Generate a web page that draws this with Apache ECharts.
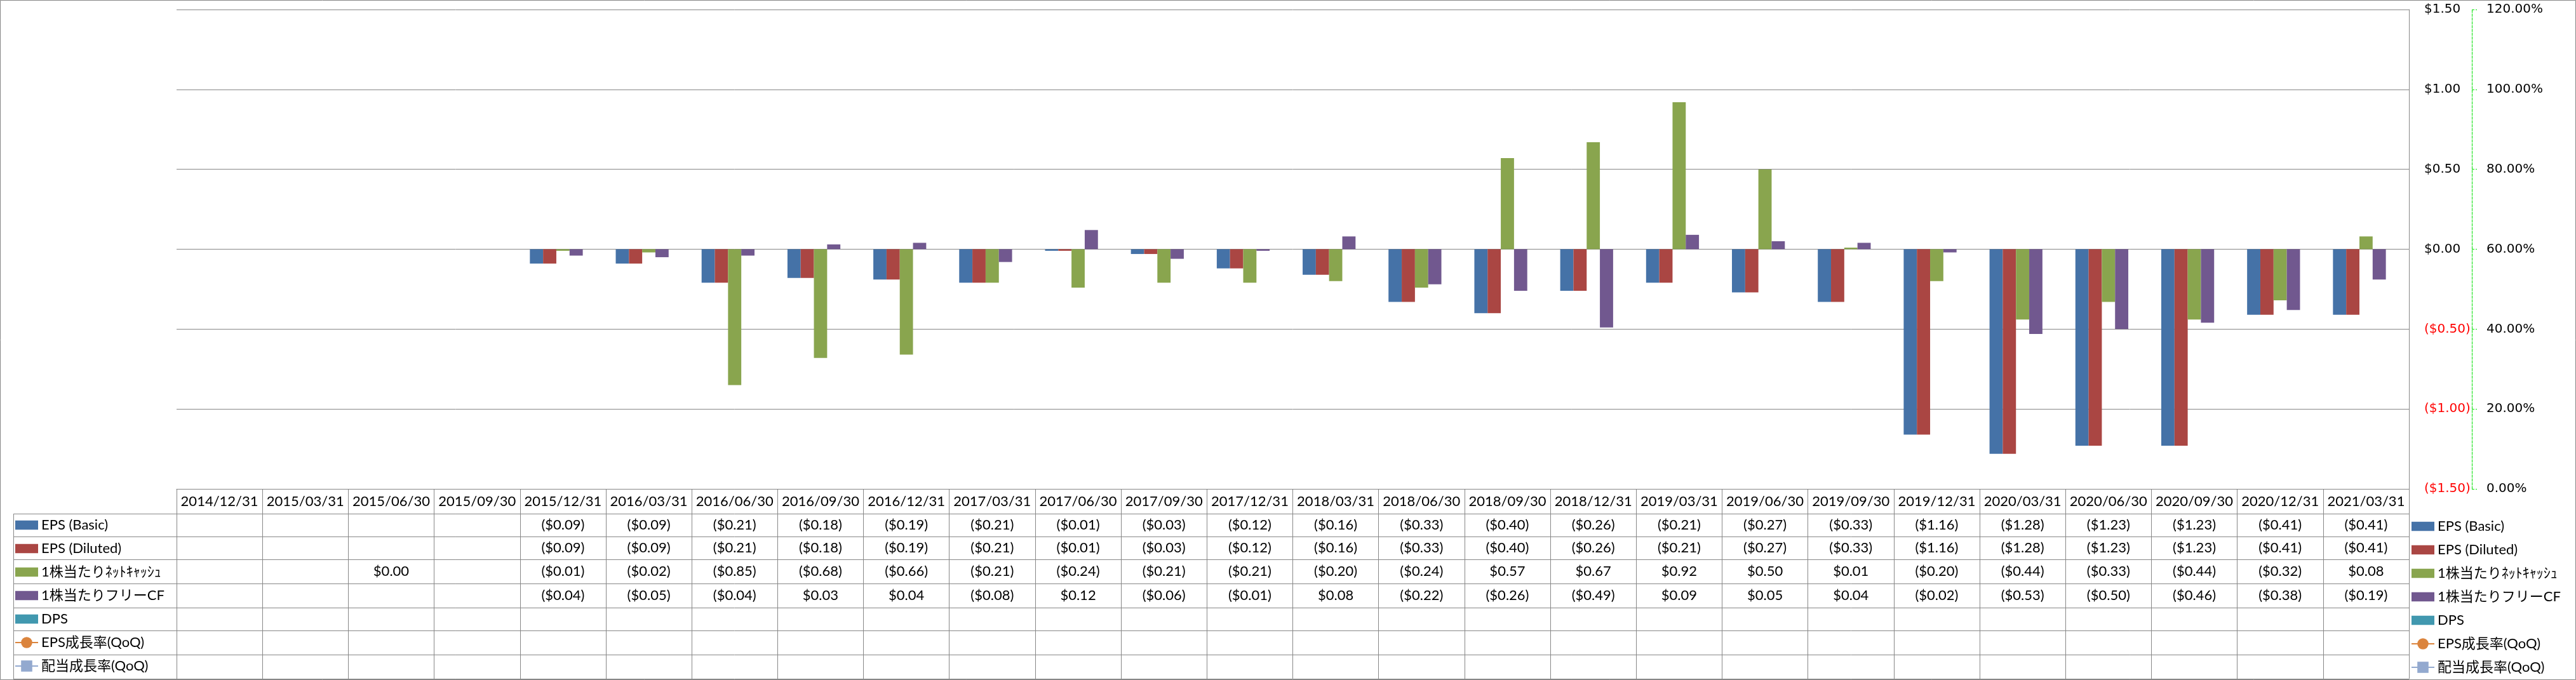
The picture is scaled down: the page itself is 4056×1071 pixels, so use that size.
<!DOCTYPE html>
<html><head><meta charset="utf-8">
<script src="https://cdn.jsdelivr.net/npm/echarts@6/dist/echarts.min.js"></script>
<style>html,body{margin:0;padding:0;background:#fff}#c{width:4056px;height:1071px}</style>
</head><body><div id="c"></div>
<script>
// ---------------- DATA ----------------
const categories = ['2014/12/31','2015/03/31','2015/06/30','2015/09/30','2015/12/31','2016/03/31','2016/06/30','2016/09/30','2016/12/31','2017/03/31','2017/06/30','2017/09/30','2017/12/31','2018/03/31','2018/06/30','2018/09/30','2018/12/31','2019/03/31','2019/06/30','2019/09/30','2019/12/31','2020/03/31','2020/06/30','2020/09/30','2020/12/31','2021/03/31'];
const epsBasic   = [null,null,null,null,-0.09,-0.09,-0.21,-0.18,-0.19,-0.21,-0.01,-0.03,-0.12,-0.16,-0.33,-0.40,-0.26,-0.21,-0.27,-0.33,-1.16,-1.28,-1.23,-1.23,-0.41,-0.41];
const epsDiluted = [null,null,null,null,-0.09,-0.09,-0.21,-0.18,-0.19,-0.21,-0.01,-0.03,-0.12,-0.16,-0.33,-0.40,-0.26,-0.21,-0.27,-0.33,-1.16,-1.28,-1.23,-1.23,-0.41,-0.41];
const netCashPerShare = [null,null,0.00,null,-0.01,-0.02,-0.85,-0.68,-0.66,-0.21,-0.24,-0.21,-0.21,-0.20,-0.24,0.57,0.67,0.92,0.50,0.01,-0.20,-0.44,-0.33,-0.44,-0.32,0.08];
const fcfPerShare = [null,null,null,null,-0.04,-0.05,-0.04,0.03,0.04,-0.08,0.12,-0.06,-0.01,0.08,-0.22,-0.26,-0.49,0.09,0.05,0.04,-0.02,-0.53,-0.50,-0.46,-0.38,-0.19];
const dps        = [null,null,null,null,null,null,null,null,null,null,null,null,null,null,null,null,null,null,null,null,null,null,null,null,null,null];
const epsGrowth  = [null,null,null,null,null,null,null,null,null,null,null,null,null,null,null,null,null,null,null,null,null,null,null,null,null,null];
const divGrowth  = [null,null,null,null,null,null,null,null,null,null,null,null,null,null,null,null,null,null,null,null,null,null,null,null,null,null];
const seriesNames = ['EPS (Basic)','EPS (Diluted)','1株当たりﾈｯﾄｷｬｯｼｭ','1株当たりフリーCF','DPS','EPS成長率(QoQ)','配当成長率(QoQ)'];
const dollarAxis = {min:-1.5, max:1.5, interval:0.5};
const percentAxis = {min:0, max:1.2, interval:0.2};

// ---------------- STYLE / LAYOUT ----------------
const colors = ['#4572A7','#AA4643','#89A54E','#71588F','#4198AF','#DB843D','#93A9CF'];
const GRAY = '#878787';
const TFONT = "Lato, 'Noto Sans CJK JP', sans-serif";
const AFONT = "'DejaVu Sans', sans-serif";
const PLOT = {l:278, r:3793, t:15, b:770};
const rowTops = [809,845,881,919,957,993,1031];
const tableBottom = 1069;

const fmtDollar = v => (v === null || v === undefined) ? '' : (v < 0 ? '($' + Math.abs(v).toFixed(2) + ')' : '$' + v.toFixed(2));
const fmtPct = v => (v === null || v === undefined) ? '' : (v * 100).toFixed(2) + '%';
const rows = [
  {vals: epsBasic, fmt: fmtDollar},
  {vals: epsDiluted, fmt: fmtDollar},
  {vals: netCashPerShare, fmt: fmtDollar},
  {vals: fcfPerShare, fmt: fmtDollar},
  {vals: dps, fmt: fmtDollar},
  {vals: epsGrowth, fmt: fmtPct},
  {vals: divGrowth, fmt: fmtPct}
];

const xAxes = [{
  type:'category', data: categories, gridIndex:0, position:'bottom',
  axisLine:{show:true, onZero:false, lineStyle:{color:GRAY, width:1}},
  axisTick:{show:true, interval:0, length: rowTops[0]-PLOT.b, lineStyle:{color:GRAY, width:1}},
  axisLabel:{interval:0, margin:(rowTops[0]-PLOT.b)/2, verticalAlign:'middle', fontSize:22, fontFamily:TFONT, color:'#000'},
  splitLine:{show:false}
}];
rows.forEach((r, i) => {
  const top = rowTops[i];
  const h = (i + 1 < rowTops.length ? rowTops[i+1] : tableBottom) - top;
  xAxes.push({
    type:'category', data: categories, gridIndex:0, position:'bottom', offset: top - PLOT.b,
    axisLine:{show:true, onZero:false, lineStyle:{color:GRAY, width:1}},
    axisTick:{show:true, interval:0, length:h, lineStyle:{color:GRAY, width:1}},
    axisLabel:{interval:0, margin:h/2, verticalAlign:'middle', fontSize:22, fontFamily:TFONT, color:'#000',
      formatter:(val, idx) => r.fmt(r.vals[idx])},
    splitLine:{show:false}
  });
});
xAxes.push({
  type:'category', data: categories, gridIndex:0, position:'bottom', offset: tableBottom - PLOT.b,
  axisLine:{show:true, onZero:false, lineStyle:{color:GRAY, width:1}},
  axisTick:{show:false}, axisLabel:{show:false}, splitLine:{show:false}
});

const barIcon = 'path://M0,0H32V13H0Z';
function legendData() {
  return seriesNames.map((n, i) => i < 5 ? {name:n, icon:barIcon} : {name:n});
}
const legendCommon = {
  orient:'vertical', itemWidth:36, itemHeight:22, itemGap:15, selectedMode:false, padding:0, height:260,
  textStyle:{fontSize:22, fontFamily:TFONT, color:'#000', lineHeight:22}
};

const barSeries = [epsBasic, epsDiluted, netCashPerShare, fcfPerShare, dps].map((d, i) => ({
  name: seriesNames[i], type:'bar', data: d, xAxisIndex:0, yAxisIndex:0,
  barGap:'0%', barCategoryGap:'23%', itemStyle:{color: colors[i]}
}));
const lineSeries = [
  {name: seriesNames[5], type:'line', data: epsGrowth, xAxisIndex:0, yAxisIndex:1, symbol:'circle', symbolSize:16,
   itemStyle:{color: colors[5]}, lineStyle:{color: colors[5], width:5}},
  {name: seriesNames[6], type:'line', data: divGrowth, xAxisIndex:0, yAxisIndex:1, symbol:'rect', symbolSize:16,
   itemStyle:{color: colors[6]}, lineStyle:{color: colors[6], width:5}}
];

const colLines = [];
rowTops.concat([tableBottom]).forEach(y => colLines.push({type:'line', shape:{x1:21, y1:y+0.5, x2:PLOT.l, y2:y+0.5}, style:{stroke:GRAY, lineWidth:1}, silent:true}));
colLines.push({type:'line', shape:{x1:21.5, y1:rowTops[0], x2:21.5, y2:tableBottom}, style:{stroke:GRAY, lineWidth:1}, silent:true});

const option = {
  animation:false,
  backgroundColor:'#fff',
  color: colors,
  grid:{left:PLOT.l, right:4056-PLOT.r, top:PLOT.t, bottom:1071-PLOT.b, containLabel:false},
  legend:[
    Object.assign({left:23, top:816, data: legendData()}, legendCommon),
    Object.assign({left:3796, top:818, data: legendData()}, legendCommon)
  ],
  xAxis: xAxes,
  yAxis:[
    {type:'value', position:'right', min:dollarAxis.min, max:dollarAxis.max, interval:dollarAxis.interval,
     axisLine:{show:true, lineStyle:{color:GRAY, width:1}}, axisTick:{show:false},
     splitLine:{show:true, lineStyle:{color:GRAY, width:1}},
     axisLabel:{margin:24, align:'left', fontSize:20, fontFamily:AFONT,
       formatter: v => fmtDollar(Math.round(v*100)/100),
       color: v => (Number(v) < 0 ? '#FF0000' : '#000000')}},
    {type:'value', position:'right', offset:99, min:percentAxis.min, max:percentAxis.max, interval:percentAxis.interval,
     axisLine:{show:true, lineStyle:{color:'#00E000', width:1, type:[4,2]}},
     axisTick:{show:true, length:8, lineStyle:{color:'#00E000', width:1, type:[4,2]}},
     splitLine:{show:false},
     axisLabel:{margin:23, align:'left', fontSize:20, fontFamily:AFONT, color:'#000',
       formatter: v => fmtPct(Math.round(v*10000)/10000)}}
  ],
  graphic:[
    {type:'rect', shape:{x:0.5, y:0.5, width:4055, height:1070}, style:{fill:null, stroke:GRAY, lineWidth:1}, silent:true, z:100}
  ].concat(colLines),
  series: barSeries.concat(lineSeries)
};
const chart = echarts.init(document.getElementById('c'), null, {renderer:'canvas'});
chart.setOption(option);
</script>
</body></html>
